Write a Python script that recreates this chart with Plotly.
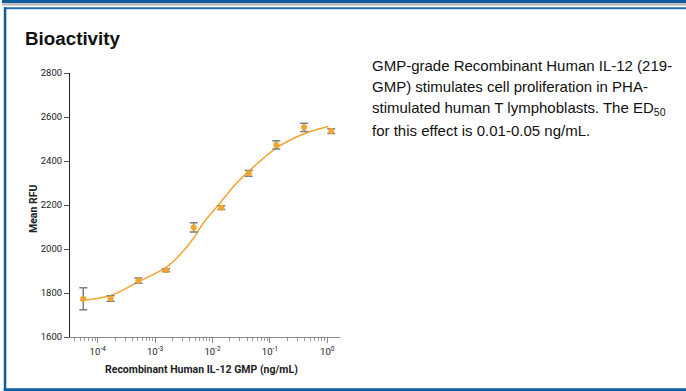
import plotly.graph_objects as go

# ---- data ----
conc = [5.6e-5, 1.68e-4, 5.1e-4, 1.55e-3, 4.7e-3, 0.0142, 0.0428, 0.129, 0.394, 1.17]
mean_rfu = [1774, 1775, 1856, 1903, 2098, 2188, 2344, 2473, 2553, 2536]
err_rfu = [50, 12, 12, 6, 21, 9, 13, 19, 19, 11]

# fitted curve
curve_x = [4.93e-5, 1.68e-4, 5.1e-4, 1.55e-3, 2.72e-3, 4.7e-3, 6.92e-3, 0.0142, 0.0247,
           0.0428, 0.129, 0.394, 1.04]
curve_y = [1766, 1789, 1851, 1916, 1974, 2050, 2118, 2216, 2292, 2353, 2459, 2524, 2557]

tick_vals = [1e-4, 1e-3, 1e-2, 1e-1, 1]
tick_text = ["10<sup>-4</sup>", "10<sup>-3</sup>", "10<sup>-2</sup>", "10<sup>-1</sup>", "10<sup>0</sup>"]
minor_vals = [m * 10 ** e for e in range(-5, 1) for m in range(2, 10)]

COND = "Roboto, Liberation Sans, sans-serif"
ARIAL = "Liberation Sans, Arial, sans-serif"
BLUE = "#0d5d9f"
ORANGE = "#f2a531"


def cfont(size, color="#222"):
    return dict(family=COND, size=size, color=color)


fig = go.Figure()
fig.add_trace(go.Scatter(
    x=curve_x, y=curve_y, mode="lines",
    line=dict(color=ORANGE, width=1.5, shape="spline", smoothing=1.0),
    hoverinfo="skip", showlegend=False))
fig.add_trace(go.Scatter(
    x=conc, y=mean_rfu, mode="markers",
    marker=dict(color=ORANGE, size=6),
    error_y=dict(type="data", array=err_rfu, color="#7f7f7f", thickness=1.5, width=4),
    showlegend=False))

fig.update_layout(
    width=686, height=391,
    margin=dict(l=70, r=346, t=73, b=54),
    paper_bgcolor="white", plot_bgcolor="white",
    font=cfont(10),
    xaxis=dict(
        type="log", range=[-4.483, 0.221],
        tickmode="array", tickvals=tick_vals, ticktext=tick_text,
        ticks="outside", ticklen=5, tickcolor="#888", tickwidth=1,
        showline=True, linecolor="#888", linewidth=1.2,
        showgrid=False, zeroline=False,
        tickfont=cfont(9.5),
        minor=dict(tickmode="array", tickvals=minor_vals, ticks="outside",
                   ticklen=3, tickcolor="#999", showgrid=False),
    ),
    yaxis=dict(
        range=[1600, 2800], tickmode="array",
        tickvals=[1600, 1800, 2000, 2200, 2400, 2600, 2800],
        ticks="outside", ticklen=5, tickcolor="#555", tickwidth=1,
        showline=True, linecolor="#222", linewidth=1,
        showgrid=False, zeroline=False,
        tickfont=cfont(9.5),
    ),
)

# axis titles
fig.add_annotation(text="<b>Recombinant Human IL-12 GMP (ng/mL)</b>", xref="paper", yref="paper",
                   x=(201 - 70) / 270, y=-(369 - 337) / 264, xanchor="center", yanchor="middle",
                   showarrow=False, font=cfont(10.5))
fig.add_annotation(text="<b>Mean RFU</b>", xref="paper", yref="paper",
                   x=-(70 - 33) / 270, y=(337 - 209) / 264, xanchor="center", yanchor="middle",
                   textangle=-90, showarrow=False, font=cfont(10.5))

# heading
fig.add_annotation(text="<b>Bioactivity</b>", xref="paper", yref="paper",
                   x=-(70 - 22.5) / 270, y=(337 - 38.5) / 264, xanchor="left", yanchor="middle",
                   showarrow=False, font=dict(family=ARIAL, size=18.8, color="#111"))

# description
lines = ["GMP-grade Recombinant Human IL-12 (219-",
         "GMP) stimulates cell proliferation in PHA-",
         "stimulated human T lymphoblasts. The ED<sub>50</sub>",
         "for this effect is 0.01-0.05 ng/mL."]
ys = [66, 87, 108, 130]
for t, yy in zip(lines, ys):
    fig.add_annotation(text=t, xref="paper", yref="paper",
                       x=(370 - 70) / 270, y=(337 - yy) / 264, xanchor="left", yanchor="middle",
                       showarrow=False, font=dict(family=ARIAL, size=15, color="#111"))


# frame
def px_x(v):
    return (v - 70) / 270


def px_y(v):
    return (337 - v) / 264


shapes = [
    dict(type="rect", x0=px_x(2), x1=px_x(686), y0=px_y(0), y1=px_y(3), fillcolor=BLUE, line_width=0),
    dict(type="rect", x0=px_x(2), x1=px_x(686), y0=px_y(3.3), y1=px_y(5.5), fillcolor="#b4b4b4", line_width=0),
    dict(type="rect", x0=px_x(4), x1=px_x(686), y0=px_y(7.3), y1=px_y(9.3), fillcolor="#1f6fb5", line_width=0),
    dict(type="rect", x0=px_x(3.8), x1=px_x(6.3), y0=px_y(7.3), y1=px_y(391), fillcolor=BLUE, line_width=0),
    dict(type="rect", x0=px_x(3.8), x1=px_x(686), y0=px_y(388.3), y1=px_y(391), fillcolor=BLUE, line_width=0),
]
for s in shapes:
    s.update(xref="paper", yref="paper", layer="above")
fig.update_layout(shapes=shapes)

post = (
    "document.body.style.margin='0';"
    "document.body.style.overflow='hidden';"
)
fig.write_html("out.html", post_script=post, config={"displayModeBar": False})
